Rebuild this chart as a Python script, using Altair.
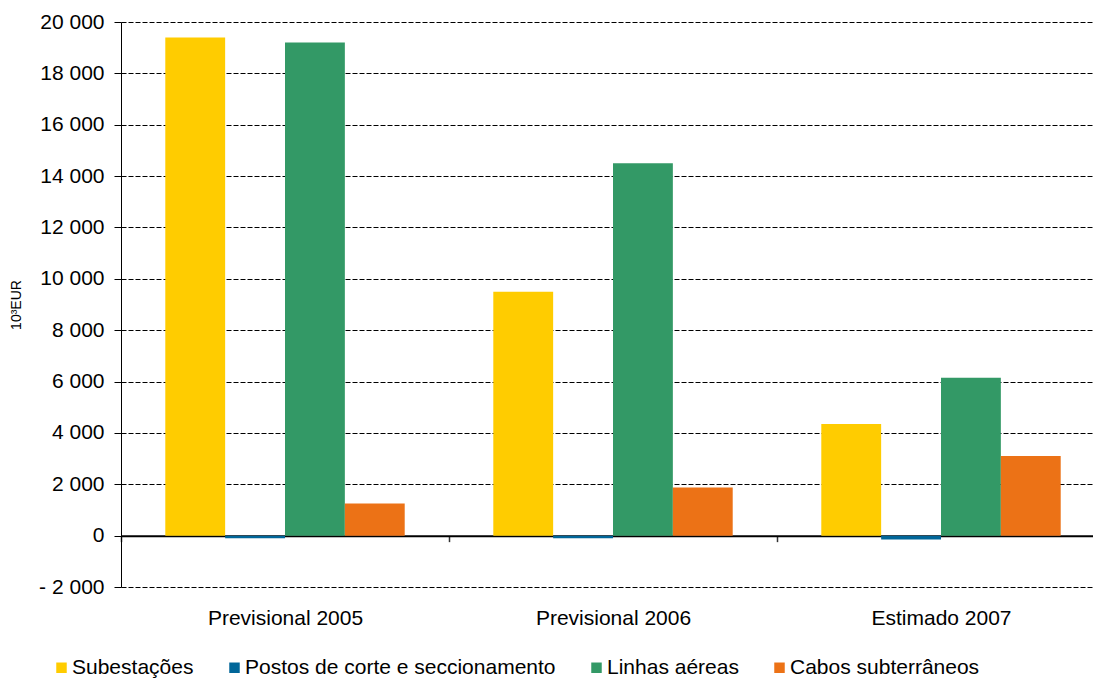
import altair as alt
import pandas as pd

categories = ["Previsional 2005", "Previsional 2006", "Estimado 2007"]
series = ["Subestações", "Postos de corte e seccionamento", "Linhas aéreas", "Cabos subterrâneos"]
subestacoes = [19400, 9500, 4350]
postos = [-100, -100, -150]
linhas = [19200, 14500, 6150]
cabos = [1250, 1870, 3100]
colors = ["#FFCC00", "#006699", "#339966", "#EC7216"]
y_ticks = list(range(-2000, 20001, 2000))

rows = []
for name, vals in zip(series, [subestacoes, postos, linhas, cabos]):
    for c, v in zip(categories, vals):
        rows.append({"cat": c, "serie": name, "valor": v})
df = pd.DataFrame(rows)

W, H = 972, 565
font = "Liberation Sans"
zero_offset = -H * 2000 / 22000

y_label = ("datum.value < 0 ? '- ' + replace(format(-datum.value, ','), ',', ' ') "
           ": replace(format(datum.value, ','), ',', ' ')")

chart = alt.Chart(df).mark_bar().encode(
    x=alt.X("cat:N", sort=categories, title=None,
            scale=alt.Scale(paddingInner=0, paddingOuter=0, range=[0, 984]),
            axis=alt.Axis(offset=zero_offset, domainColor="black", domainWidth=2,
                          tickBand="extent", tickSize=6, tickColor="#333", tickWidth=1.5,
                          labelPadding=66, labelAngle=0, labelFontSize=21, labelFont=font,
                          labelColor="black", grid=False)),
    xOffset=alt.XOffset("serie:N", sort=series,
                        scale=alt.Scale(paddingInner=0, paddingOuter=0.74)),
    y=alt.Y("valor:Q", title="10³EUR",
            scale=alt.Scale(domain=[-2000, 20000], nice=False, zero=False),
            axis=alt.Axis(values=y_ticks, labelExpr=y_label, labelFontSize=21, labelFont=font,
                          labelColor="black", domainColor="black", tickColor="black",
                          tickSize=7, labelPadding=10, gridColor="black", gridDash=[5, 2],
                          gridWidth=1, titleFont=font, titleFontSize=14,
                          titleFontWeight="normal", titleColor="black", titlePadding=15)),
    color=alt.Color("serie:N", sort=series, title=None,
                    scale=alt.Scale(domain=series, range=colors),
                    legend=alt.Legend(orient="none", legendX=-70, legendY=635,
                                      direction="horizontal", columns=4,
                                      symbolType="square", symbolSize=110,
                                      symbolStrokeWidth=0, labelFont=font,
                                      labelFontSize=21, labelColor="black",
                                      labelLimit=500, columnPadding=30, labelOffset=0)),
).properties(
    width=W, height=H,
    autosize=alt.AutoSizeParams(type="none"),
    padding={"left": 121, "top": 22, "right": 0, "bottom": 93},
).configure_view(stroke=None)

chart.save("out.html", embed_options={"renderer": "svg", "actions": False})
